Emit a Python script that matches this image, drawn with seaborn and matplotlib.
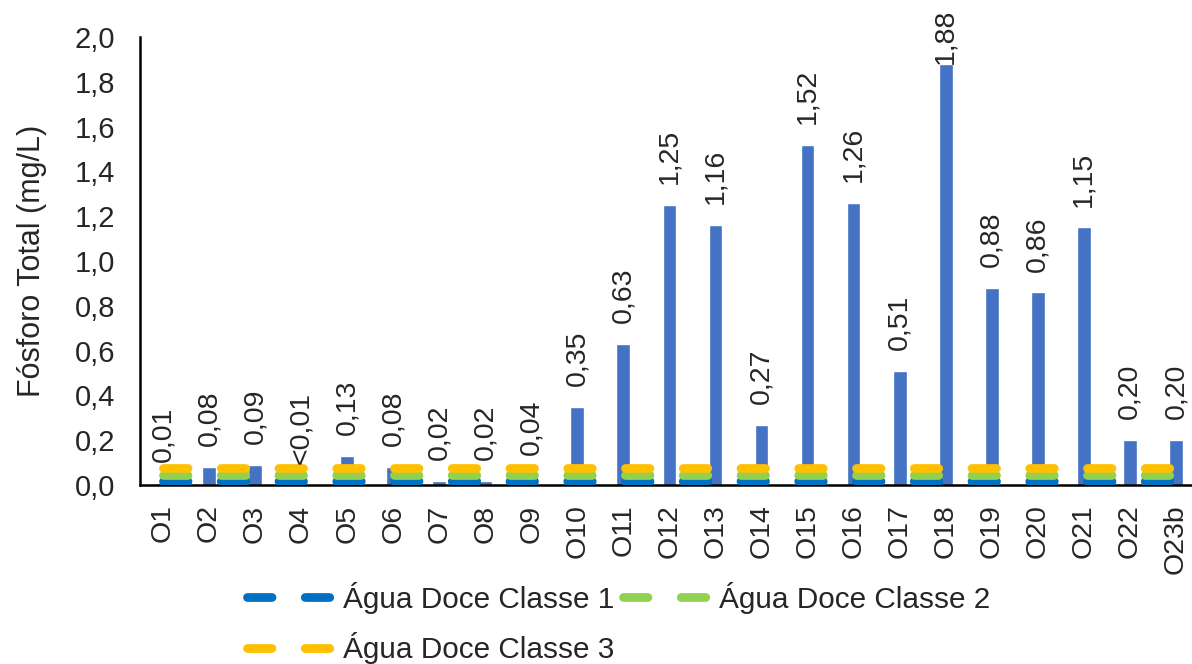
import numpy as np
import pandas as pd
import matplotlib
matplotlib.use('Agg')
import matplotlib.pyplot as plt
import seaborn as sns

# Data
pontos = ['O1', 'O2', 'O3', 'O4', 'O5', 'O6', 'O7', 'O8', 'O9', 'O10', 'O11', 'O12',
          'O13', 'O14', 'O15', 'O16', 'O17', 'O18', 'O19', 'O20', 'O21', 'O22', 'O23b']
fosforo = [0.01, 0.08, 0.09, 0.0, 0.13, 0.08, 0.02, 0.02, 0.04, 0.35, 0.63, 1.25,
           1.16, 0.27, 1.52, 1.26, 0.51, 1.88, 0.88, 0.86, 1.15, 0.20, 0.20]
rotulos = ['0,01', '0,08', '0,09', '<0,01', '0,13', '0,08', '0,02', '0,02', '0,04', '0,35',
           '0,63', '1,25', '1,16', '0,27', '1,52', '1,26', '0,51', '1,88', '0,88', '0,86',
           '1,15', '0,20', '0,20']
classes = ['Água Doce Classe 1', 'Água Doce Classe 2', 'Água Doce Classe 3']
limites = [0.02, 0.045, 0.075]
cores_limites = ['#0070C0', '#92D050', '#FFC000']

df = pd.DataFrame({'Ponto': pontos, 'Fosforo': fosforo})

sns.set_style('white')
plt.rcParams['font.family'] = ['Liberation Sans', 'DejaVu Sans']

fig = plt.figure(figsize=(11.92, 6.64), dpi=100)
ax = fig.add_axes([0.1174, 0.2696, 0.8826, 0.6747])

# Bars
sns.barplot(data=df, x='Ponto', y='Fosforo', color='#4472C4', width=0.3,
            saturation=1, ax=ax, zorder=2)

# Reference lines (one value per point, drawn as dashed lines)
x_pos = np.arange(len(pontos))
for nome, lim, cor in zip(classes, limites, cores_limites):
    df_lim = pd.DataFrame({'x': x_pos, 'y': [lim] * len(pontos)})
    sns.lineplot(data=df_lim, x='x', y='y', color=cor, linewidth=6.3,
                 linestyle=(0, (2.8, 3.8)), dash_capstyle='round', ax=ax,
                 zorder=3, label=nome)

# Data labels (the tallest one is pushed inside the chart area, like Excel does)
for i, (v, txt) in enumerate(zip(fosforo, rotulos)):
    off = 15 if v < 1.8 else 0
    ax.annotate(txt, xy=(i, v), xytext=(0, off), textcoords='offset points',
                rotation=90, ha='center', va='bottom', fontsize=20.5, zorder=4,
                annotation_clip=False)

ax.set_xlim(-0.5, 22.35)
ax.set_ylim(0, 2.0)
ax.set_yticks(np.arange(0, 2.01, 0.2))
ax.set_yticklabels([f'{t:.1f}'.replace('.', ',') for t in np.arange(0, 2.01, 0.2)])
ax.set_xticks(x_pos)
ax.set_xticklabels(pontos, rotation=90)
ax.tick_params(axis='y', length=0, pad=18, labelsize=21)
ax.tick_params(axis='x', length=0, pad=14, labelsize=20.5)
ax.set_xlabel('')
ax.set_ylabel('Fósforo Total (mg/L)', fontsize=22)
ax.yaxis.set_label_coords(-0.088, 0.5)

# Spines
sns.despine(ax=ax, top=True, right=True)
for s in ['left', 'bottom']:
    ax.spines[s].set_color('black')
    ax.spines[s].set_linewidth(1.8)

# Legend below the chart (row-wise order)
h, l = ax.get_legend_handles_labels()
ax.get_legend().remove()
order = [0, 2, 1]
fig.legend([h[k] for k in order], [l[k] for k in order], ncol=2, frameon=False,
           loc='upper left', bbox_to_anchor=(0.207, 0.124), fontsize=21.4,
           handlelength=2.9, handletextpad=0.33, columnspacing=0.3,
           labelspacing=0.62, borderpad=0, borderaxespad=0)

plt.savefig('out.png', dpi=100)
